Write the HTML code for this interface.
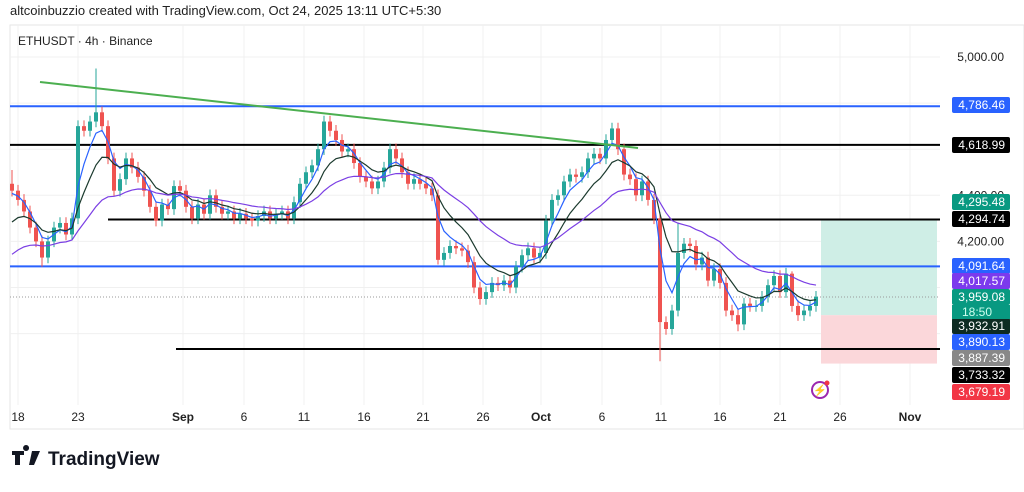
<!DOCTYPE html>
<html><head><meta charset="utf-8"><style>
body{margin:0;background:#fff;width:1024px;height:487px;overflow:hidden;font-family:"Liberation Sans",sans-serif}
</style></head><body>
<svg id="c" width="1024" height="487" xmlns="http://www.w3.org/2000/svg" font-family="Liberation Sans, sans-serif"></svg>
<script>
const closes=[4420,4380,4330,4260,4200,4130,4200,4260,4280,4230,4300,4700,4680,4720,4760,4700,4560,4420,4470,4560,4520,4480,4420,4350,4290,4360,4340,4440,4420,4350,4300,4360,4320,4400,4350,4320,4330,4300,4320,4300,4290,4310,4330,4300,4320,4330,4300,4370,4450,4500,4530,4600,4720,4680,4640,4590,4600,4540,4480,4460,4430,4460,4520,4600,4560,4500,4450,4470,4450,4430,4400,4120,4150,4180,4170,4160,4110,4000,3950,3980,4020,4010,4030,4000,4090,4140,4170,4130,4150,4290,4380,4400,4460,4490,4480,4500,4560,4580,4560,4640,4690,4600,4490,4470,4400,4460,4380,4300,3850,3820,3900,4150,4190,4180,4100,4130,4030,4080,4020,3900,3880,3840,3930,3920,3920,3960,4010,4050,3980,4060,3920,3880,3900,3920,3960];
const spikeIdx=[0,5,14,71,108,111,121,130];
const spikeVal=[4510,4090,4950,4100,3680,4280,3810,4070];
const priceTicks=[5000,4400,4200];
const dateLabels=["18","23","Sep","6","11","16","21","26","Oct","6","11","16","21","26","Nov"];
const dateX=[18,78,183,244,304,364,423,483,541,602,661,720,780,840,910];
const levels=[4786.46,4618.99,4294.74,4091.64,3733.32];
const S=document.getElementById('c');const NS="http://www.w3.org/2000/svg";
function y(p){return 57+(5000-p)*0.2305}
function xi(i){return 12+6*i}
function el(t,a,txt){const e=document.createElementNS(NS,t);for(const k in a)e.setAttribute(k,a[k]);if(txt!==undefined)e.textContent=txt;S.appendChild(e);return e}
let t=el('text',{x:10,y:15,'font-size':13,fill:'#222'},'altcoinbuzzio created with TradingView.com, Oct 24, 2025 13:11 UTC+5:30');

let fr=el('rect',{x:10,y:25,width:1014,height:404,fill:'none',stroke:'#e6e6e6'});

dateX.forEach((x,i)=>{let g=el('line',{x1:x,x2:x,y1:25,y2:405,stroke:'#f0f0f0'});

let d=el('text',{x:x,y:421,'font-size':12,'text-anchor':'middle',fill:'#222','font-weight':(isNaN(dateLabels[i])?'bold':'normal')},dateLabels[i]);
});
[5000,4800,4600,4400,4200,4000,3800].forEach(p=>{let g=el('line',{x1:10,x2:940,y1:y(p),y2:y(p),stroke:'#f0f0f0'});});
t=el('text',{x:18,y:45,'font-size':12,fill:'#222'},'ETHUSDT · 4h · Binance');

let b=el('rect',{x:821,y:y(4294.74),width:116,height:y(3880)-y(4294.74),fill:'#cfeee6'});

b=el('rect',{x:821,y:y(3880),width:116,height:y(3670)-y(3880),fill:'#fbd7da'});

const lvlStyle=[['#2962ff',10],['#000',10],['#000',108],['#2962ff',10],['#000',176]];
levels.forEach((p,i)=>{let l=el('line',{x1:lvlStyle[i][1],x2:940,y1:y(p),y2:y(p),stroke:lvlStyle[i][0],'stroke-width':2});
});
let dl=el('line',{x1:10,x2:940,y1:297,y2:297,stroke:'#999','stroke-dasharray':'1 2'});

closes.forEach((c,i)=>{const o=i?closes[i-1]:c+30;const up=c>=o;const col=up?'#26a69a':'#ef5350';
let hi=Math.max(o,c)+25,lo=Math.min(o,c)-25;const k=spikeIdx.indexOf(i);if(k>=0){if(spikeVal[k]>Math.max(o,c))hi=spikeVal[k];else lo=spikeVal[k];}
const x=xi(i);let w=el('line',{x1:x,x2:x,y1:y(hi),y2:y(lo),stroke:col,'stroke-width':1});

let r=el('rect',{x:x-2,y:y(Math.max(o,c)),width:4,height:Math.max(1,Math.abs(y(o)-y(c))),fill:col});
});
function ema(n,start){let v=start,out=[];closes.forEach(c=>{v=v+(c-v)*2/(n+1);out.push(v)});return out}
[[ema(4,4400),'#2962ff'],[ema(9,4250),'#1b3a2e'],[ema(24,4120),'#7b3fe4']].forEach(([arr,col])=>{
let p=el('polyline',{points:arr.map((v,i)=>xi(i)+','+y(v)).join(' '),fill:'none',stroke:col,'stroke-width':1.2});
});
let tl=el('line',{x1:40,y1:82,x2:638,y2:148,stroke:'#4caf50','stroke-width':2});

priceTicks.forEach(p=>{let a=el('text',{x:1004,y:y(p)+4,'font-size':12,'text-anchor':'end',fill:'#222'},p.toLocaleString('en-US',{minimumFractionDigits:2}));
});
const tags=[[105,'4,786.46','#2962ff'],[145,'4,618.99','#000'],[202,'4,295.48','#089981'],[219,'4,294.74','#000'],[266,'4,091.64','#2962ff'],[281,'4,017.57','#7c3aed'],[297,'3,959.08','#089981'],[326,'3,932.91','#0d2b22'],[342,'3,890.13','#2962ff'],[358,'3,887.39','#888'],[375,'3,733.32','#000'],[392,'3,679.19','#f23645']];
tags.forEach(([ty,txt,col])=>{let r=el('rect',{x:952,y:ty-8,width:58,height:16,rx:2,fill:col});

let a=el('text',{x:1005,y:ty+4,'font-size':12,'text-anchor':'end',fill:'#fff'},txt);});
let cr=el('rect',{x:952,y:305,width:58,height:14,fill:'#089981'});
t=el('text',{x:962,y:316,'font-size':12,fill:'#cfe'},'18:50');
let ic=el('circle',{cx:820,cy:390,r:8,fill:'none',stroke:'#9c27b0','stroke-width':2});
t=el('text',{x:820,y:394,'font-size':11,'text-anchor':'middle',fill:'#9c27b0'},'⚡');
ic=el('circle',{cx:827,cy:383,r:2.5,fill:'#f23645'});
let lg=el('path',{d:'M12 451h12v4h-4v10h-5v-10h-3z M26 451a3 3 0 1 1 0.1 0z M32 451h8l-6 14h-5z',fill:'#131722'});

t=el('text',{x:48,y:465,'font-size':19,'font-weight':'bold',fill:'#131722'},'TradingView');
</script>
</body></html>
